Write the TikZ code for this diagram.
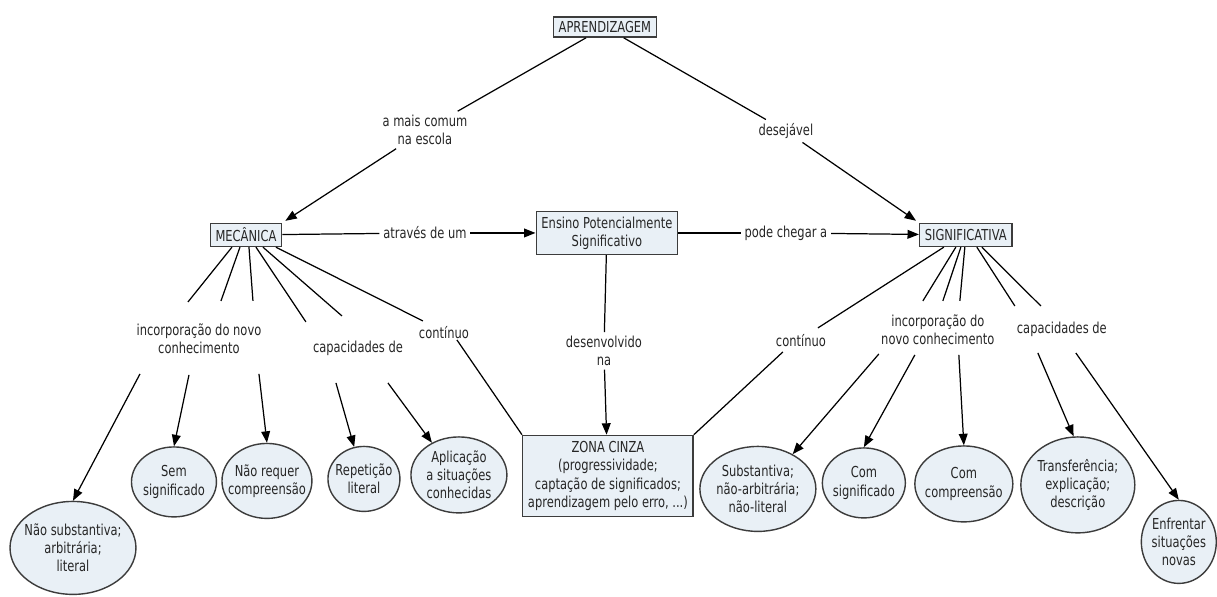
\documentclass[tikz,border=0pt]{standalone}
\usepackage{fontspec}
\setmainfont{DejaVu Sans}[FakeStretch=0.76]
\usetikzlibrary{arrows.meta, positioning, shapes, shapes.geometric, calc}
\definecolor{boxfill}{RGB}{233,240,246}
\definecolor{boxline}{RGB}{60,60,60}

\begin{document}
\begin{tikzpicture}[x=0.02cm, y=-0.02cm,
  every node/.style={font=\fontsize{8.6}{10.3}\selectfont, align=center, text=black!85},
  concept/.style={draw=boxline, fill=boxfill, line width=0.8pt, inner xsep=3pt, inner ysep=2.5pt},
  idea/.style={draw=boxline, fill=boxfill, line width=0.8pt, ellipse, inner xsep=-8pt, inner ysep=-6pt},
  phrase/.style={inner sep=2pt},
  link/.style={line width=0.7pt},
  arr/.style={link, -{Triangle[length=6.5pt,width=5pt]}}]
  \fill[white] (0,0) rectangle (1217,597);

  % Concepts
  \node[concept] (aprend) at (605,27) {APRENDIZAGEM};
  \node[concept, minimum height=0.46cm] (mec) at (246,235) {MECÂNICA};
  \node[concept, minimum width=2.68cm, minimum height=0.86cm] (ensino) at (607,233) {Ensino Potencialmente\\Significativo};
  \node[concept, minimum height=0.46cm] (sig) at (966,235) {SIGNIFICATIVA};
  \node[concept, minimum width=3.38cm, minimum height=1.62cm] (zona) at (608,476) {ZONA CINZA\\(progressividade;\\captação de significados;\\aprendizagem pelo erro, ...)};

  % Linking phrases
  \node[phrase] (comum) at (425,130) {a mais comum\\na escola};
  \node[phrase] (desej) at (786,131) {desejável};
  \node[phrase] (atraves) at (425,233) {através de um};
  \node[phrase] (pode) at (786,233) {pode chegar a};
  \node[phrase] (desenv) at (604,351) {desenvolvido\\na};
  \node[phrase] (incL) at (199,339) {incorporação do novo\\conhecimento};
  \node[phrase] (capL) at (358,348) {capacidades de};
  \node[phrase] (contL) at (444,333) {contínuo};
  \node[phrase] (contR) at (801,341) {contínuo};
  \node[phrase] (incR) at (938,330) {incorporação do\\novo conhecimento};
  \node[phrase] (capR) at (1062,329) {capacidades de};

  % Ellipses, left
  \node[idea, minimum width=2.52cm, minimum height=1.86cm] (naoSub) at (73,548) {Não substantiva;\\arbitrária;\\literal};
  \node[idea, minimum width=1.7cm, minimum height=1.4cm] (semSig) at (174,482) {Sem\\significado};
  \node[idea, minimum width=1.8cm, minimum height=1.5cm] (naoReq) at (267,481) {Não requer\\compreensão};
  \node[idea, minimum width=1.44cm, minimum height=1.3cm] (repet) at (364,479) {Repetição\\literal};
  \node[idea, minimum width=1.92cm, minimum height=1.52cm] (aplic) at (459,475) {Aplicação\\a situações\\conhecidas};

  % Ellipses, right
  \node[idea, minimum width=2.32cm, minimum height=1.7cm] (subst) at (758,489) {Substantiva;\\não-arbitrária;\\não-literal};
  \node[idea, minimum width=1.66cm, minimum height=1.4cm] (comSig) at (864,483) {Com\\significado};
  \node[idea, minimum width=1.96cm, minimum height=1.52cm] (comComp) at (964,484) {Com\\compreensão};
  \node[idea, minimum width=2.28cm, minimum height=1.92cm] (transf) at (1078,485) {Transferência;\\explicação;\\descrição};
  \node[idea, minimum width=1.5cm, minimum height=1.66cm] (enfr) at (1179,542) {Enfrentar\\situações\\novas};

  % Top links
  \draw[link] (aprend) -- (comum);
  \draw[arr, shorten >=2pt] (comum) -- (mec.north east);
  \draw[link] (aprend) -- (desej);
  \draw[arr, shorten >=2pt] (desej) -- (sig.north west);
  \draw[link] (mec) -- (atraves);
  \draw[arr] (atraves) -- (ensino);
  \draw[link] (ensino) -- (pode);
  \draw[arr] (pode) -- (sig);
  \draw[link] (ensino) -- (desenv);
  \draw[arr] (desenv) -- (zona);

  % MECÂNICA fan
  \draw[link] ([shift={(-14,0)}]mec.south) -- ([shift={(-11,-37)}]incL.center);
  \draw[link] ([shift={(-6,0)}]mec.south) -- ([shift={(22,-38)}]incL.center);
  \draw[link] ([shift={(3,0)}]mec.south) -- ([shift={(54,-38)}]incL.center);
  \draw[link] ([shift={(10,0)}]mec.south) -- ([shift={(-52,-26)}]capL.center);
  \draw[link] ([shift={(17,0)}]mec.south) -- ([shift={(-16,-32)}]capL.center);
  \draw[link] ([shift={(30,0)}]mec.south) -- ([shift={(-21,-12)}]contL.center);
  \draw[link] ([shift={(13,7)}]contL.center) -- (zona.north west);
  \draw[arr] ([shift={(-59,35)}]incL.center) -- (naoSub.north);
  \draw[arr] ([shift={(-10,36)}]incL.center) -- (semSig.north);
  \draw[arr] ([shift={(60,35)}]incL.center) -- (naoReq.north);
  \draw[arr] ([shift={(-22,35)}]capL.center) -- (repet.107);
  \draw[arr] ([shift={(30,35)}]capL.center) -- (aplic.130);

  % SIGNIFICATIVA fan
  \draw[link] ([shift={(-22,0)}]sig.south) -- ([shift={(17,-13)}]contR.center);
  \draw[link] ([shift={(-18,11)}]contR.center) -- (zona.north east);
  \draw[link] ([shift={(-10,0)}]sig.south) -- ([shift={(-15,-29)}]incR.center);
  \draw[link] ([shift={(-5,0)}]sig.south) -- ([shift={(5,-29)}]incR.center);
  \draw[link] ([shift={(-1,0)}]sig.south) -- ([shift={(22,-29)}]incR.center);
  \draw[link] ([shift={(11,0)}]sig.south) -- ([shift={(-47,-23)}]capR.center);
  \draw[link] ([shift={(16,0)}]sig.south) -- ([shift={(-21,-23)}]capR.center);
  \draw[arr] ([shift={(-59,24)}]incR.center) -- (subst.45);
  \draw[arr] ([shift={(-23,25)}]incR.center) -- (comSig.north);
  \draw[arr] ([shift={(21,25)}]incR.center) -- (comComp.north);
  \draw[arr] ([shift={(-24,24)}]capR.center) -- (transf.95);
  \draw[arr] ([shift={(14,24)}]capR.center) -- (enfr.north);
\end{tikzpicture}
\end{document}
